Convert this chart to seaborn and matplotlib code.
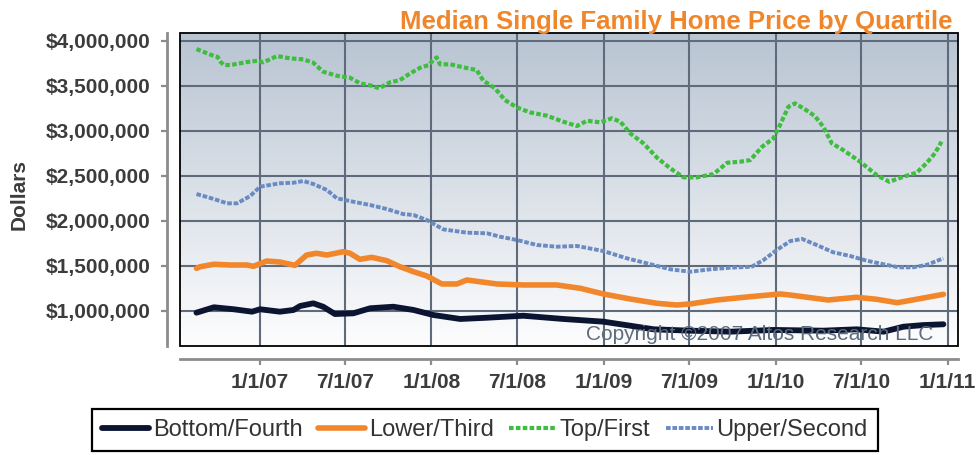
import numpy as np
import pandas as pd
import matplotlib
matplotlib.use("Agg")
import matplotlib.pyplot as plt
from matplotlib.patches import Rectangle
import seaborn as sns

sns.set_style("white")
plt.rcParams['font.family'] = ['Liberation Sans', 'DejaVu Sans']
plt.rcParams['font.weight'] = 'bold'

# ---------------- data (values in $ thousands) ----------------
top_dates = ["2006-08-20", "2006-09-26", "2006-10-04", "2006-10-10", "2006-10-17", "2006-10-31", "2006-12-05", "2006-12-28",
             "2007-01-09", "2007-02-07", "2007-03-07", "2007-04-04", "2007-04-25", "2007-05-16", "2007-06-14", "2007-07-12",
             "2007-08-02", "2007-08-27", "2007-09-12", "2007-10-05", "2007-10-26", "2007-11-17", "2007-12-08", "2007-12-26",
             "2008-01-05", "2008-01-12", "2008-01-19", "2008-02-10", "2008-03-09", "2008-04-06", "2008-04-20", "2008-05-15",
             "2008-06-05", "2008-06-30", "2008-07-28", "2008-09-02", "2008-10-07", "2008-11-05", "2008-11-26", "2008-12-24",
             "2009-01-18", "2009-02-05", "2009-02-26", "2009-03-26", "2009-04-24", "2009-05-22", "2009-06-19", "2009-07-18",
             "2009-08-22", "2009-09-20", "2009-10-18", "2009-11-08", "2009-12-03", "2009-12-27",
             "2010-01-10", "2010-01-28", "2010-02-11", "2010-03-04", "2010-03-25", "2010-04-12", "2010-04-30", "2010-05-24",
             "2010-06-29", "2010-08-03", "2010-08-30", "2010-09-29", "2010-10-27", "2010-11-17", "2010-12-05", "2010-12-19"]
top_vals = [3908, 3830, 3820, 3767, 3730, 3730, 3763, 3778,
            3760, 3830, 3804, 3793, 3756, 3656, 3611, 3589, 3527, 3500, 3471, 3538, 3563, 3638, 3700, 3730,
            3786, 3815, 3738, 3738, 3704, 3674, 3556, 3471, 3341, 3260, 3204, 3167, 3100, 3052, 3111, 3093,
            3138, 3100, 2971, 2860, 2700, 2582, 2482, 2482, 2519, 2644, 2656, 2674, 2822, 2915,
            3063, 3267, 3304, 3238, 3163, 3044, 2860, 2786, 2656, 2508, 2433, 2489, 2533, 2638, 2749, 2878]

upper_dates = ["2006-08-20", "2006-09-26", "2006-10-24", "2006-11-14", "2006-12-12",
               "2007-01-02", "2007-02-13", "2007-03-14", "2007-04-04", "2007-04-25", "2007-05-24", "2007-06-14",
               "2007-07-19", "2007-08-24", "2007-09-28", "2007-11-02", "2007-11-24", "2007-12-22",
               "2008-01-26", "2008-03-16", "2008-04-28", "2008-05-26", "2008-06-30", "2008-08-12", "2008-09-23",
               "2008-11-05", "2008-12-31",
               "2009-02-19", "2009-04-02", "2009-05-22", "2009-07-03", "2009-08-15", "2009-09-27", "2009-11-11",
               "2009-12-06",
               "2010-01-03", "2010-02-01", "2010-02-26", "2010-03-29", "2010-05-03", "2010-06-08", "2010-07-13",
               "2010-08-18", "2010-09-19", "2010-10-19", "2010-11-17", "2010-12-23"]
upper_vals = [2297, 2241, 2193, 2193, 2274,
              2378, 2416, 2422, 2441, 2408, 2341, 2249, 2211, 2174, 2130, 2074, 2063, 2008,
              1904, 1867, 1860, 1822, 1786, 1730, 1711, 1719, 1663,
              1582, 1527, 1460, 1433, 1460, 1478, 1489, 1563,
              1674, 1774, 1797, 1730, 1649, 1608, 1556, 1516, 1482, 1482, 1508, 1582]

lower_dates = ["2006-08-20", "2006-08-28", "2006-09-26", "2006-10-31", "2006-12-05", "2006-12-19",
               "2007-01-16", "2007-02-13", "2007-03-17", "2007-04-11", "2007-05-02", "2007-05-24", "2007-06-28",
               "2007-07-12", "2007-08-02", "2007-08-27", "2007-09-28", "2007-10-26", "2007-11-24", "2007-12-22",
               "2008-01-23", "2008-02-24", "2008-03-16", "2008-05-19", "2008-07-14", "2008-09-23", "2008-11-12",
               "2008-12-31",
               "2009-02-26", "2009-04-24", "2009-06-05", "2009-07-03", "2009-08-29", "2009-11-08",
               "2010-01-10", "2010-02-01", "2010-04-22", "2010-06-22", "2010-08-03", "2010-09-16", "2010-10-27",
               "2010-12-23"]
lower_vals = [1471, 1489, 1516, 1508, 1508, 1493,
              1552, 1541, 1504, 1619, 1638, 1619, 1656, 1638, 1571, 1593, 1556, 1489, 1433, 1386,
              1297, 1297, 1341, 1297, 1286, 1286, 1249, 1186,
              1130, 1082, 1063, 1075, 1119, 1156,
              1186, 1174, 1119, 1149, 1127, 1089, 1127, 1182]

bottom_dates = ["2006-08-20", "2006-09-26", "2006-11-07", "2006-12-16",
                "2007-01-02", "2007-02-13", "2007-03-14", "2007-03-28", "2007-04-25", "2007-05-16", "2007-06-10",
                "2007-07-19", "2007-08-24", "2007-10-12", "2007-11-24",
                "2008-01-05", "2008-03-02", "2008-04-28", "2008-07-14", "2008-10-07", "2008-12-31",
                "2009-02-26", "2009-04-17", "2009-07-03", "2009-09-27", "2009-12-27",
                "2010-04-12", "2010-06-22", "2010-08-18", "2010-09-29", "2010-11-10", "2010-12-23"]
bottom_vals = [978, 1038, 1016, 989,
               1016, 989, 1008, 1052, 1082, 1044, 963, 971, 1027, 1044, 1008,
               952, 908, 922, 944, 908, 878,
               833, 793, 778, 767, 786,
               778, 793, 767, 822, 840, 849]

series_names = ["Bottom/Fourth", "Lower/Third", "Top/First", "Upper/Second"]
xtick_dates = ["2007-01-01", "2007-07-01", "2008-01-01", "2008-07-01", "2009-01-01",
               "2009-07-01", "2010-01-01", "2010-07-01", "2011-01-01"]
xtick_labels = ["1/1/07", "7/1/07", "1/1/08", "7/1/08", "1/1/09", "7/1/09", "1/1/10", "7/1/10", "1/1/11"]
ytick_vals = [1000000, 1500000, 2000000, 2500000, 3000000, 3500000, 4000000]
ytick_labels = ["$1,000,000", "$1,500,000", "$2,000,000", "$2,500,000", "$3,000,000", "$3,500,000", "$4,000,000"]

title = "Median Single Family Home Price by Quartile"
copyright_text = "Copyright \u00a92007 Altos Research LLC"

# ---------------- build long table ----------------
raw = {"Bottom/Fourth": (bottom_dates, bottom_vals),
       "Lower/Third": (lower_dates, lower_vals),
       "Top/First": (top_dates, top_vals),
       "Upper/Second": (upper_dates, upper_vals)}
frames = []
for name in series_names:
    d, v = raw[name]
    frames.append(pd.DataFrame({"date": pd.to_datetime(d),
                                "price": np.array(v, dtype=float) * 1000.0,
                                "quartile": name}))
df = pd.concat(frames, ignore_index=True)

styles = {
    "Bottom/Fourth": dict(color="#0B1430", linewidth=4.2, linestyle="-"),
    "Lower/Third": dict(color="#F1862B", linewidth=4.0, linestyle="-"),
    "Top/First": dict(color="#3FBD3F", linewidth=3.0, linestyle=(0, (1.1, 0.55))),
    "Upper/Second": dict(color="#6A8BC2", linewidth=2.8, linestyle=(0, (1.2, 0.45))),
}

# ---------------- figure ----------------
W, H = 976, 455
fig = plt.figure(figsize=(W / 100, H / 100), dpi=100)
fig.patch.set_facecolor("white")
ax = fig.add_axes([180 / W, 1 - 345.7 / H, 778 / W, 312.7 / H])

# gradient background
t = np.linspace(0, 1, 256).reshape(-1, 1, 1)
c_top = np.array([184, 196, 210]) / 255.0
c_bot = np.array([253, 253, 254]) / 255.0
img = c_top + (c_bot - c_top) * t
ax.imshow(img, extent=[0, 1, 0, 1], transform=ax.transAxes, aspect="auto",
          zorder=0, interpolation="bilinear")

for name in series_names:
    sub = df[df["quartile"] == name]
    st = styles[name]
    sns.lineplot(data=sub, x="date", y="price", ax=ax, label=name,
                 color=st["color"], linewidth=st["linewidth"], linestyle=st["linestyle"],
                 solid_capstyle="round", solid_joinstyle="round", dash_capstyle="butt", zorder=3)

ax.set_xlim(pd.Timestamp("2006-07-16"), pd.Timestamp("2011-01-23"))
ax.set_ylim(611000, 4086000)

ax.set_xticks(pd.to_datetime(xtick_dates))
ax.set_xticklabels(xtick_labels)
ax.set_yticks(ytick_vals)
ax.set_yticklabels(ytick_labels)
ax.set_xlabel("")
ax.set_ylabel("")

ax.set_axisbelow(True)
ax.grid(True, color="#5F6B7A", linewidth=1.5)

for s in ["top", "right"]:
    ax.spines[s].set_visible(False)
for s in ["left", "bottom"]:
    ax.spines[s].set_visible(True)
    ax.spines[s].set_position(("outward", 9.5))
    ax.spines[s].set_color("#8C8C8C")
    ax.spines[s].set_linewidth(2.0)

ax.add_patch(Rectangle((0, 0), 1, 1, transform=ax.transAxes, fill=False,
                       edgecolor="black", linewidth=1.3, zorder=5, clip_on=False))

ax.tick_params(axis="y", left=True, length=4.5, width=1.6, color="#8C8C8C",
               pad=7, labelsize=15, labelcolor="#3C3C3C")
ax.tick_params(axis="x", bottom=True, length=4.5, width=1.6, color="#8C8C8C",
               pad=6, labelsize=15, labelcolor="#3C3C3C")
for lab in ax.get_xticklabels() + ax.get_yticklabels():
    lab.set_fontweight("bold")

leg0 = ax.get_legend()
if leg0 is not None:
    leg0.remove()

ax.text(0.968, 0.018, copyright_text, transform=ax.transAxes, ha="right", va="baseline",
        fontsize=15, fontweight="normal", color="#5E6D7D", zorder=4)

fig.text(952 / W, 1 - 29 / H, title, ha="right", va="baseline", color="#F0862B",
         fontsize=18.5, fontweight="bold")
fig.text(19.5 / W, 1 - 194 / H, "Dollars", ha="center", va="center", rotation=90,
         fontsize=15, fontweight="bold", color="#3C3C3C")

handles, labels = ax.get_legend_handles_labels()
leg = fig.legend(handles, labels, loc="center", bbox_to_anchor=(485 / W, 1 - 430 / H),
                 ncol=4, frameon=True, fancybox=False, framealpha=1,
                 prop={"size": 17, "weight": "normal"},
                 edgecolor="black", handlelength=2.0, handletextpad=0.15,
                 columnspacing=0.65, borderpad=0.42)
leg.get_frame().set_linewidth(1.6)
for txt in leg.get_texts():
    txt.set_color("#333333")
    txt.set_fontweight("normal")

fig.savefig("out.png", dpi=100)
